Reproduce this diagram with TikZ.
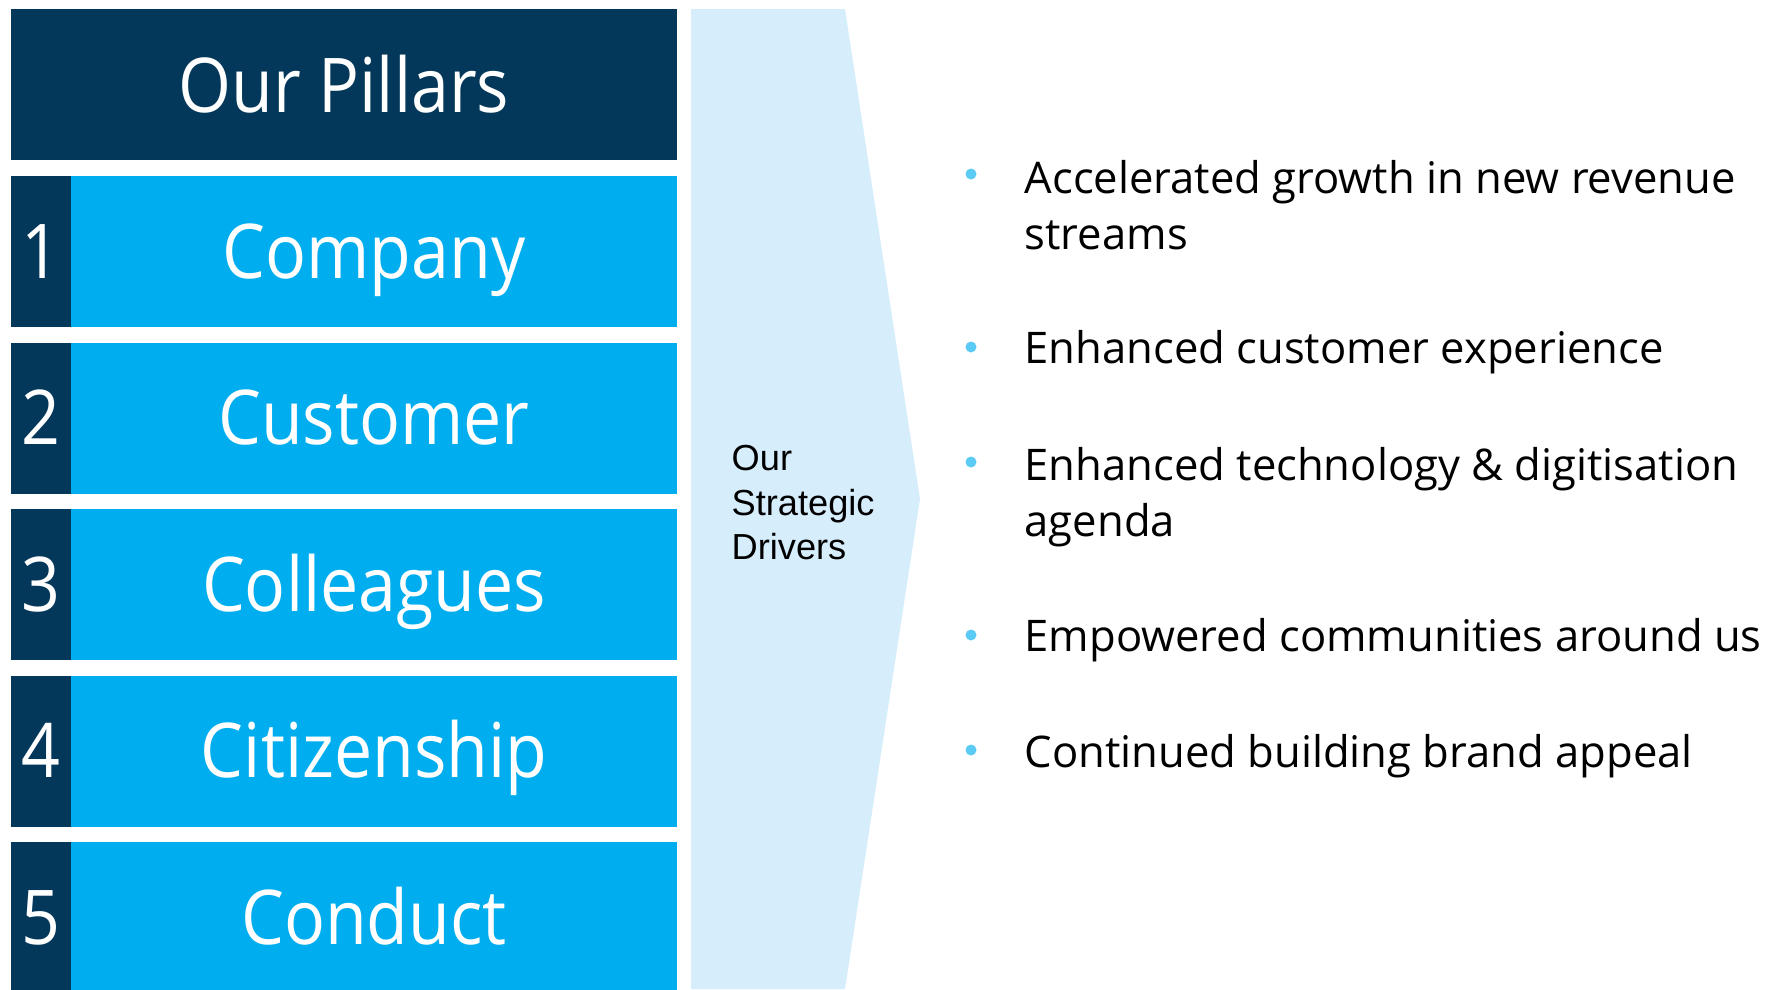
\documentclass[tikz,border=0pt]{standalone}
\usepackage{fontspec}
\setmainfont{Open Sans}
\newfontfamily\pillarfont[FakeStretch=0.9]{Open Sans}
\newfontfamily\arialfont{Liberation Sans}
\definecolor{navy}{HTML}{03385A}
\definecolor{pillarblue}{HTML}{00AEEF}
\definecolor{driverblue}{HTML}{D6EDFC}
\definecolor{dotblue}{HTML}{5BCBF5}
\tikzset{
  pillar/.style={font=\pillarfont\fontsize{21.5}{24}\selectfont,text=white,anchor=base,inner sep=0pt},
  point/.style={font=\fontsize{12.4}{15.9}\selectfont,anchor=base west,align=left,inner sep=0pt},
}
\begin{document}
\begin{tikzpicture}[x=0.1mm,y=-0.1mm]
\useasboundingbox (0,0) rectangle (1765,989);
% pillars on the left
\fill[navy] (11,9) rectangle (677,160);
\node[pillar] (title) at (344,112) {Our Pillars};
\foreach \n/\name [count=\i from 0] in {1/Company,2/Customer,3/Colleagues,4/Citizenship,5/Conduct}{
  \pgfmathsetmacro\rowtop{176+166.5*\i}
  \fill[navy] (11,\rowtop) rectangle +(60,151);
  \fill[pillarblue] (71,\rowtop) rectangle +(606,151);
  \node[pillar] (num\n) at (41,\rowtop+102) {\n};
  \node[pillar] (name\n) at (374,\rowtop+102) {\name};
}
% the chevron
\fill[driverblue] (691,9) -- (845,9) -- (920,499) -- (845,989) -- (691,989) -- cycle;
\node[font=\arialfont\fontsize{10.3}{12.66}\selectfont,align=left,anchor=north west,inner sep=0pt]
  (drivers) at (731,445) {Our\\Strategic\\Drivers};
% drivers list: dot height / baseline of the last line / text
\foreach \d/\b/\txt [count=\k] in {174/249/{Accelerated growth in new revenue\\streams},
    347/363/{Enhanced customer experience},462/536/{Enhanced technology \& digitisation\\agenda},
    635/651/{Empowered communities around us},750/767/{Continued building brand appeal}}{
  \fill[dotblue] (971,\d) circle (5.5);
  \node[point] (point\k) at (1024,\b) {\txt};
}
\end{tikzpicture}
\end{document}
